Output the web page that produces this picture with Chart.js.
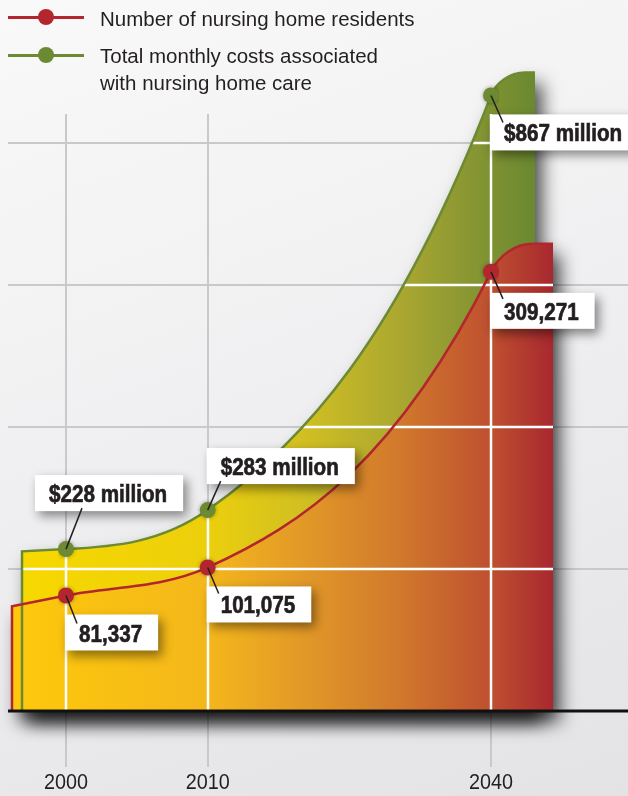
<!DOCTYPE html>
<html>
<head>
<meta charset="utf-8">
<title>Nursing home residents and monthly costs</title>
<script src="https://cdn.jsdelivr.net/npm/chart.js@4.4.1/dist/chart.umd.min.js"></script>
<style>
  html, body { margin: 0; padding: 0; }
  body {
    width: 628px; height: 796px; overflow: hidden; position: relative;
    background: linear-gradient(160deg, #f9f9f9 0%, #eeeef0 55%, #e3e3e6 100%);
    font-family: "Liberation Sans", Arial, sans-serif; color: #231f20;
  }
  #chart { position: absolute; left: 0; top: 0; }
  .legend-item { position: absolute; left: 0; width: 420px; }
  .legend-line { position: absolute; left: 8px; width: 76px; height: 3px; }
  .legend-dot { position: absolute; left: 38px; width: 16px; height: 16px; border-radius: 50%; }
  .legend-text { position: absolute; left: 100px; font-size: 20.5px; line-height: 27px; white-space: nowrap; }
</style>
</head>
<body>
<canvas id="chart" width="628" height="796"></canvas>

<div class="legend-item" style="top:0">
  <div class="legend-line" style="top:16px; background:#b3262e"></div>
  <div class="legend-dot" style="top:9px; background:#b3262e"></div>
  <div class="legend-text" style="top:5px">Number of nursing home residents</div>
</div>
<div class="legend-item" style="top:0">
  <div class="legend-line" style="top:54px; background:#6b8a31"></div>
  <div class="legend-dot" style="top:47px; background:#6b8a31"></div>
  <div class="legend-text" style="top:42px">Total monthly costs associated<br>with nursing home care</div>
</div>

<script>
// the gap between 2010 and 2040 takes up two slots on the axis
const years = ['2000', '2010', '', '2040'];
const residents = [81337, 101075, null, 309271];
const monthlyCosts = [228, 283, null, 867]; // millions of dollars
const residentGrid = [100000, 200000, 300000, 400000];

const RED = '#b3262e';
const GREEN = '#6b8a31';
const INK = '#231f20';

// no narrow face installed, so text is squeezed horizontally
const LABEL_FONT = { css: 'bold 24px "Liberation Sans", Arial, sans-serif', squeeze: 0.86, weight: 0.7 };
const TICK_FONT = { css: '22px "Liberation Sans", Arial, sans-serif', squeeze: 0.9, weight: 0 };

// shape of each filled band: slopes (px/px) at each point, plus the decorative caps
const bandStyle = [
  { // residents
    stroke: RED, slopes: [0.2, 0.45, null, 2.0],
    leftEdge: 12, capEnd: 533, capRise: 28, rightEdge: 553,
    stops: [[0, '#fdc90b'], [0.36, '#f4b71b'], [0.53, '#e39a27'], [0.72, '#d0782c'], [0.885, '#bf5030'], [1, '#a8282f']]
  },
  { // monthly costs
    stroke: GREEN, slopes: [0.05, 0.7, null, 2.6],
    leftEdge: 22, capEnd: 525, capRise: 23, rightEdge: 535,
    stops: [[0, '#f7d800'], [0.36, '#eccf0c'], [0.54, '#d3c021'], [0.74, '#aaa731'], [0.91, '#7f9232'], [1, '#6a8930']]
  }
];

// where each value box sits relative to its point, and where its leader line ends
const boxPlacement = [
  [{ dx: -1, dy: 19, lx: 11, ly: 28 }, { dx: -1, dy: 19, lx: 11, ly: 26 }, null, { dx: -1, dy: 21, lx: 12, ly: 27 }],
  [{ dx: -31, dy: -74, lx: 16, ly: -41 }, { dx: -1, dy: -62, lx: 13, ly: -29 }, null, { dx: -1, dy: 19, lx: 12, ly: 27 }]
];

function squeezedWidth(ctx, font, text) {
  ctx.font = font.css;
  return ctx.measureText(text).width * font.squeeze;
}

function squeezedText(ctx, font, text, x, y, align) {
  ctx.save();
  ctx.font = font.css;
  ctx.textAlign = align;
  ctx.textBaseline = 'alphabetic';
  ctx.translate(x, y);
  ctx.scale(font.squeeze, 1);
  ctx.fillText(text, 0, 0);
  if (font.weight) {
    ctx.strokeStyle = ctx.fillStyle;
    ctx.lineWidth = font.weight;
    ctx.strokeText(text, 0, 0);
  }
  ctx.restore();
}

function visiblePoints(chart, i) {
  return chart.getDatasetMeta(i).data.filter(p => !p.skip);
}

function bandSlopes(st) {
  return st.slopes.filter(s => s !== null);
}

// traces the top edge of a band: left wall, curve through the points, rounded cap
function traceTop(ctx, pts, st, baseY) {
  const m = bandSlopes(st);
  const first = pts[0];
  const last = pts[pts.length - 1];
  ctx.moveTo(st.leftEdge, baseY);
  ctx.lineTo(st.leftEdge, first.y + m[0] * (first.x - st.leftEdge));
  ctx.lineTo(first.x, first.y);
  for (let i = 0; i < pts.length - 1; i++) {
    const a = pts[i], b = pts[i + 1], d = (b.x - a.x) / 3;
    ctx.bezierCurveTo(a.x + d, a.y - m[i] * d, b.x - d, b.y + m[i + 1] * d, b.x, b.y);
  }
  const top = last.y - st.capRise;
  const k = st.capRise * 0.55;
  const mLast = m[m.length - 1];
  ctx.bezierCurveTo(last.x + k / mLast, last.y - k, st.capEnd - 0.45 * (st.capEnd - last.x), top, st.capEnd, top);
  ctx.lineTo(st.rightEdge, top);
}

function traceBand(ctx, pts, st, baseY) {
  traceTop(ctx, pts, st, baseY);
  ctx.lineTo(st.rightEdge, baseY);
  ctx.closePath();
}

function drawGrid(ctx, chart, color, width) {
  const xs = chart.scales.x;
  const ys = chart.scales.y;
  ctx.strokeStyle = color;
  ctx.lineWidth = width;
  ctx.beginPath();
  residentGrid.forEach(v => {
    const y = Math.round(ys.getPixelForValue(v));
    ctx.moveTo(8, y);
    ctx.lineTo(chart.width, y);
  });
  years.forEach((label, i) => {
    if (!label) return;
    const x = Math.round(xs.getPixelForValue(i));
    ctx.moveTo(x, 114);
    ctx.lineTo(x, 767);
  });
  ctx.stroke();
}

const bandsPlugin = {
  id: 'bands',
  beforeDatasetsDraw(chart) {
    const ctx = chart.ctx;
    const baseY = chart.scales.y.getPixelForValue(0);
    const order = [1, 0]; // costs band sits behind residents band
    const pts = [visiblePoints(chart, 0), visiblePoints(chart, 1)];

    ctx.save();
    drawGrid(ctx, chart, '#c9c9cc', 2);

    // drop shadow for both bands
    ctx.save();
    ctx.shadowColor = 'rgba(0,0,0,0.7)';
    ctx.shadowBlur = 18;
    ctx.shadowOffsetX = 7;
    ctx.shadowOffsetY = 11;
    ctx.fillStyle = '#444';
    order.forEach(i => {
      ctx.beginPath();
      traceBand(ctx, pts[i], bandStyle[i], baseY);
      ctx.fill();
    });
    ctx.restore();

    order.forEach(i => {
      const st = bandStyle[i];
      const grad = ctx.createLinearGradient(st.leftEdge, 0, st.rightEdge, 0);
      st.stops.forEach(([o, c]) => grad.addColorStop(o, c));
      ctx.fillStyle = grad;
      ctx.beginPath();
      traceBand(ctx, pts[i], st, baseY);
      ctx.fill();
    });

    // white grid inside the bands
    ctx.save();
    ctx.beginPath();
    order.forEach(i => traceBand(ctx, pts[i], bandStyle[i], baseY));
    ctx.clip();
    drawGrid(ctx, chart, '#ffffff', 2.5);
    ctx.restore();

    order.forEach(i => {
      ctx.beginPath();
      traceTop(ctx, pts[i], bandStyle[i], baseY);
      ctx.strokeStyle = bandStyle[i].stroke;
      ctx.lineWidth = 2.5;
      ctx.stroke();
    });

    // base line
    ctx.beginPath();
    ctx.moveTo(8, baseY);
    ctx.lineTo(chart.width, baseY);
    ctx.strokeStyle = '#111';
    ctx.lineWidth = 3;
    ctx.stroke();

    // year labels under the axis
    ctx.fillStyle = INK;
    years.forEach((label, i) => {
      if (!label) return;
      squeezedText(ctx, TICK_FONT, label, chart.scales.x.getPixelForValue(i), 789, 'center');
    });
    ctx.restore();
  },
  beforeDatasetDraw(chart) {
    chart.ctx.save();
    chart.ctx.shadowColor = 'rgba(0,0,0,0.35)';
    chart.ctx.shadowBlur = 4;
  },
  afterDatasetDraw(chart) {
    chart.ctx.restore();
  }
};

function valueText(datasetIndex, v) {
  return datasetIndex === 0 ? v.toLocaleString('en-US') : '$' + v + ' million';
}

const valueBoxPlugin = {
  id: 'valueBoxes',
  afterDatasetsDraw(chart) {
    const ctx = chart.ctx;
    ctx.save();
    chart.data.datasets.forEach((ds, di) => {
      chart.getDatasetMeta(di).data.forEach((pt, i) => {
        const place = boxPlacement[di][i];
        const v = ds.data[i];
        if (v === null || !place) return;
        const text = valueText(di, v);
        const w = squeezedWidth(ctx, LABEL_FONT, text) + 30;
        const h = 36;
        const bx = pt.x + place.dx;
        const by = pt.y + place.dy;

        ctx.save();
        ctx.shadowColor = 'rgba(0,0,0,0.45)';
        ctx.shadowBlur = 10;
        ctx.shadowOffsetX = 4;
        ctx.shadowOffsetY = 5;
        ctx.fillStyle = '#ffffff';
        ctx.fillRect(bx, by, w, h);
        ctx.restore();

        ctx.beginPath();
        ctx.moveTo(pt.x, pt.y);
        ctx.lineTo(pt.x + place.lx, pt.y + place.ly);
        ctx.strokeStyle = INK;
        ctx.lineWidth = 1.5;
        ctx.stroke();

        ctx.fillStyle = INK;
        squeezedText(ctx, LABEL_FONT, text, bx + 14, by + 27, 'left');
      });
    });
    ctx.restore();
  }
};

new Chart(document.getElementById('chart'), {
  type: 'line',
  data: {
    labels: years,
    datasets: [
      {
        label: 'Number of nursing home residents',
        data: residents,
        yAxisID: 'y',
        showLine: false,
        pointRadius: 8,
        pointHoverRadius: 8,
        pointBorderWidth: 0,
        pointBackgroundColor: RED
      },
      {
        label: 'Total monthly costs associated with nursing home care',
        data: monthlyCosts,
        yAxisID: 'y1',
        showLine: false,
        pointRadius: 8,
        pointHoverRadius: 8,
        pointBorderWidth: 0,
        pointBackgroundColor: GREEN
      }
    ]
  },
  options: {
    responsive: false,
    animation: false,
    events: [],
    layout: { padding: { left: 66, right: 137, top: 72, bottom: 85 } },
    plugins: { legend: { display: false }, tooltip: { enabled: false } },
    scales: {
      x: { type: 'category', offset: false, display: false },
      y: { display: false, min: 0, max: 450000, ticks: { stepSize: 100000 } },
      y1: { display: false, min: 0, max: 900, ticks: { stepSize: 200 } }
    }
  },
  plugins: [bandsPlugin, valueBoxPlugin]
});
</script>
</body>
</html>
